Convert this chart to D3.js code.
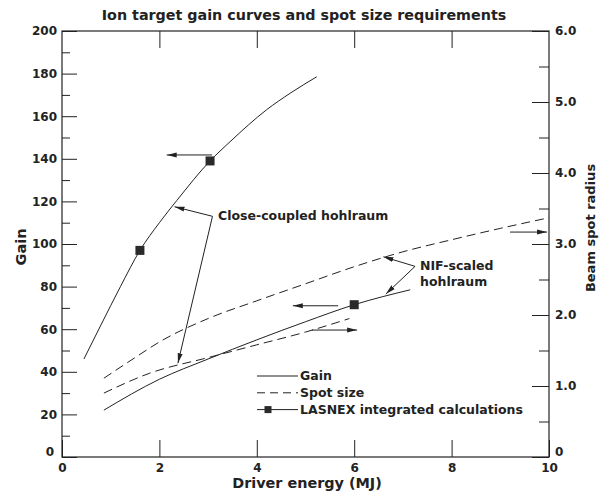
<!DOCTYPE html>
<html>
<head>
<script src="https://cdn.jsdelivr.net/npm/d3@7"></script>
<style>
  body { margin: 0; background: #fff; }
  text { font-family: "DejaVu Sans", sans-serif; font-weight: bold; fill: #222; }
</style>
</head>
<body>
<svg width="604" height="495"></svg>
<script>
// close-coupled hohlraum gain (left axis)
var ccGainE = [0.45, 0.8, 1.2, 1.6, 2.0, 2.36, 3.04, 3.45, 4.2, 4.7, 5.23];
var ccGain  = [46, 62, 80, 97, 110, 120.5, 139, 148, 163, 171, 178.5];
// NIF-scaled hohlraum gain (left axis)
var nifGainE = [0.86, 2.0, 3.0, 4.0, 5.0, 6.0, 7.15];
var nifGain  = [22, 36.5, 46, 55, 63.5, 71.5, 78.5];
// close-coupled spot size (right axis)
var ccSpotE = [0.86, 1.8, 3.0, 4.0, 5.0, 5.9];
var ccSpot  = [0.90, 1.18, 1.40, 1.58, 1.76, 1.95];
// NIF-scaled spot size (right axis)
var nifSpotE = [0.86, 1.5, 2.0, 3.0, 4.0, 5.0, 6.0, 7.0, 8.0, 9.0, 10.0];
var nifSpot  = [1.11, 1.40, 1.62, 1.95, 2.2, 2.44, 2.68, 2.89, 3.06, 3.22, 3.37];
// LASNEX integrated calculations
var lasnexE = [1.6, 3.04, 6.0];
var lasnexGain = [97, 139, 71.5];

var gainTicks = d3.range(0, 201, 20);
var gainMinor = d3.range(10, 200, 20);
var radTicks = [0, 1, 2, 3, 4, 5, 6];
var radMinor = [0.5, 1.5, 2.5, 3.5, 4.5, 5.5];
var energyTicks = [0, 2, 4, 6, 8, 10];

var svg = d3.select("svg");
var pL = 62, pR = 549, pT = 31, pB = 457;
var x = d3.scaleLinear().domain([0, 10]).range([pL, pR]);
var yG = d3.scaleLinear().domain([0, 200]).range([pB, pT]);
var yR = d3.scaleLinear().domain([0, 6]).range([pB, pT]);
var ink = "#222";

svg.append("defs").append("marker")
  .attr("id", "ah").attr("viewBox", "0 0 10 6").attr("refX", 10).attr("refY", 3)
  .attr("markerWidth", 10).attr("markerHeight", 6).attr("markerUnits", "userSpaceOnUse")
  .attr("orient", "auto")
  .append("path").attr("d", "M0,0.5 L10,3 L0,5.5 Z").attr("fill", ink);

// title
svg.append("text").attr("x", 304).attr("y", 20).attr("text-anchor", "middle")
  .style("font-size", "14.3px").text("Ion target gain curves and spot size requirements");

// axes
function styleAxis(g) {
  g.select(".domain").remove();
  g.selectAll("line").attr("stroke", ink);
  g.selectAll("text").style("font-size", "12px").attr("fill", ink);
}
svg.append("g").attr("transform", "translate(" + pL + ",0)")
  .call(d3.axisLeft(yG).tickValues(gainTicks).tickSize(-15).tickPadding(5)).call(styleAxis)
  .selectAll("text").filter(function(d) { return d === 0; }).attr("dy", "-0.1em").attr("x", -8);
svg.append("g").attr("transform", "translate(" + pL + ",0)")
  .call(d3.axisLeft(yG).tickValues(gainMinor).tickSize(-8).tickFormat("")).call(styleAxis);
svg.append("g").attr("transform", "translate(" + pR + ",0)")
  .call(d3.axisRight(yR).tickValues(radTicks).tickSize(-17).tickPadding(6)
    .tickFormat(function(d) { return d === 0 ? "0" : d.toFixed(1); })).call(styleAxis)
  .selectAll("text").filter(function(d) { return d === 0; }).attr("dy", "-0.1em");
svg.append("g").attr("transform", "translate(" + pR + ",0)")
  .call(d3.axisRight(yR).tickValues(radMinor).tickSize(-10).tickFormat("")).call(styleAxis);
svg.append("g").attr("transform", "translate(0," + pB + ")")
  .call(d3.axisBottom(x).tickValues(energyTicks).tickSize(-17).tickPadding(6)).call(styleAxis);
svg.append("g").attr("transform", "translate(0," + pT + ")")
  .call(d3.axisTop(x).tickValues([2, 4, 6, 8]).tickSize(-17).tickFormat("")).call(styleAxis);

svg.append("rect").attr("x", pL).attr("y", pT).attr("width", pR - pL).attr("height", pB - pT)
  .attr("fill", "none").attr("stroke", ink).attr("stroke-width", 1.2);

// axis titles
svg.append("text").attr("x", 307).attr("y", 488).attr("text-anchor", "middle")
  .style("font-size", "14.4px").text("Driver energy (MJ)");
svg.append("text").attr("transform", "translate(26,247) rotate(-90)").attr("text-anchor", "middle")
  .style("font-size", "14.5px").text("Gain");
svg.append("text").attr("transform", "translate(595,228) rotate(-90)").attr("text-anchor", "middle")
  .style("font-size", "13px").text("Beam spot radius");

// curves
function drawCurve(xs, ys, yScale, dashed) {
  var line = d3.line().x(function(d, i) { return x(xs[i]); }).y(function(d) { return yScale(d); })
    .curve(d3.curveMonotoneX);
  svg.append("path").attr("d", line(ys)).attr("fill", "none").attr("stroke", ink)
    .attr("stroke-width", 1).attr("stroke-dasharray", dashed ? "9,5" : null);
}
drawCurve(ccGainE, ccGain, yG, false);
drawCurve(nifGainE, nifGain, yG, false);
drawCurve(ccSpotE, ccSpot, yR, true);
drawCurve(nifSpotE, nifSpot, yR, true);

svg.selectAll("rect.lasnex").data(lasnexE).enter().append("rect").attr("class", "lasnex")
  .attr("x", function(d) { return x(d) - 4.5; })
  .attr("y", function(d, i) { return yG(lasnexGain[i]) - 4.5; })
  .attr("width", 9).attr("height", 9).attr("fill", "#2a2a2a");

// axis-indicator arrows [x1, x2, gain-level]
var axisArrows = [[3.08, 2.15, 141.8], [5.67, 4.74, 71], [5.13, 6.06, 59.6], [9.2, 9.96, 105.6]];
svg.selectAll("line.ind").data(axisArrows).enter().append("line").attr("class", "ind")
  .attr("x1", function(d) { return x(d[0]); }).attr("x2", function(d) { return x(d[1]); })
  .attr("y1", function(d) { return yG(d[2]); }).attr("y2", function(d) { return yG(d[2]); })
  .attr("stroke", ink).attr("stroke-width", 1).attr("marker-end", "url(#ah)");

// annotation leaders [fromE, fromGain, toE, toGain]
var leaders = [[3.09, 113, 2.31, 117.5], [3.09, 113, 2.38, 44],
               [7.25, 89.5, 6.6, 94], [7.25, 89.5, 6.65, 76.5]];
svg.selectAll("line.lead").data(leaders).enter().append("line").attr("class", "lead")
  .attr("x1", function(d) { return x(d[0]); }).attr("y1", function(d) { return yG(d[1]); })
  .attr("x2", function(d) { return x(d[2]); }).attr("y2", function(d) { return yG(d[3]); })
  .attr("stroke", ink).attr("stroke-width", 1).attr("marker-end", "url(#ah)");

svg.append("text").attr("x", 218).attr("y", 220).style("font-size", "12.5px").text("Close-coupled hohlraum");
svg.append("text").attr("x", 420).attr("y", 270).style("font-size", "12.5px").text("NIF-scaled");
svg.append("text").attr("x", 420).attr("y", 286).style("font-size", "12.5px").text("hohlraum");

// legend
var legendRows = ["Gain", "Spot size", "LASNEX integrated calculations"];
var lg = svg.append("g");
legendRows.forEach(function(lbl, i) {
  var yy = 376 + i * 16.8;
  lg.append("line").attr("x1", 257).attr("x2", 298).attr("y1", yy).attr("y2", yy)
    .attr("stroke", ink).attr("stroke-dasharray", i === 1 ? "8,5" : null);
  if (i === 2) lg.append("rect").attr("x", 264.5).attr("y", yy - 3.5).attr("width", 7).attr("height", 7).attr("fill", "#2a2a2a");
  lg.append("text").attr("x", 300).attr("y", yy + 4.3).style("font-size", "12.5px").text(lbl);
});
</script>
</body>
</html>
